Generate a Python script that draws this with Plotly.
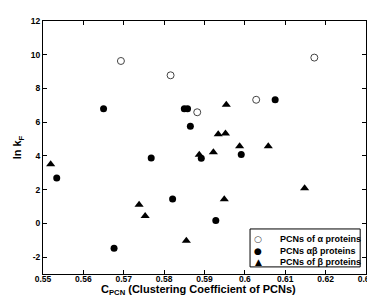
import plotly.graph_objects as go

alpha_x = [0.5693, 0.5816, 0.5882, 0.6028, 0.6172]
alpha_y = [9.63, 8.78, 6.59, 7.33, 9.83]

ab_x = [0.5650, 0.5850, 0.5858, 0.5865, 0.6075, 0.5768, 0.5534, 0.5676, 0.5892, 0.5991, 0.5821, 0.5928]
ab_y = [6.80, 6.80, 6.80, 5.76, 7.33, 3.88, 2.69, -1.48, 3.87, 4.09, 1.45, 0.17]

beta_x = [0.5519, 0.5738, 0.5753, 0.5855, 0.5887, 0.5922, 0.5987, 0.5949, 0.6058, 0.6148, 0.5954, 0.5934, 0.5952]
beta_y = [3.51, 1.10, 0.44, -1.03, 4.07, 4.22, 4.57, 1.43, 4.57, 2.09, 7.03, 5.29, 5.33]

x_ticks = [0.55, 0.56, 0.57, 0.58, 0.59, 0.60, 0.61, 0.62, 0.63]
x_tick_labels = ["0.55", "0.56", "0.57", "0.58", "0.59", "0.6", "0.61", "0.62", "0.63"]
y_ticks = [-2, 0, 2, 4, 6, 8, 10, 12]
y_tick_labels = ["-2", "0", "2", "4", "6", "8", "10", "12"]

legend_names = ["PCNs of α proteins", "PCNs αβ proteins", "PCNs of β proteins"]
legend_symbols = ["○", "●", "▲"]

FONT = "Liberation Sans"

fig = go.Figure()
fig.add_trace(go.Scatter(x=alpha_x, y=alpha_y, mode="markers", name=legend_names[0],
                         marker=dict(symbol="circle-open", size=7, color="#444444", line=dict(width=1))))
fig.add_trace(go.Scatter(x=ab_x, y=ab_y, mode="markers", name=legend_names[1],
                         marker=dict(symbol="circle", size=7, color="black")))
fig.add_trace(go.Scatter(x=beta_x, y=beta_y, mode="markers", name=legend_names[2],
                         marker=dict(symbol="triangle-up", size=8, color="black")))

axis_common = dict(showgrid=False, zeroline=False, showline=True, linecolor="black", linewidth=1,
                   mirror="ticks", ticks="inside", ticklen=4, tickcolor="black",
                   ticklabeloverflow="allow",
                   tickfont=dict(family=FONT, size=8.5, color="black", weight="bold"))

fig.update_layout(
    width=375, height=298,
    margin=dict(l=35, r=11, t=8, b=32),
    paper_bgcolor="white", plot_bgcolor="white",
    font=dict(family=FONT, color="black"),
    showlegend=False,
    xaxis=dict(range=[0.55, 0.63], tickvals=x_ticks, ticktext=x_tick_labels,
               ticklabelstandoff=-3, **axis_common),
    yaxis=dict(range=[-3, 12], tickvals=y_ticks, ticktext=y_tick_labels,
               title=dict(text="<b>ln k<sub>F</sub></b>", font=dict(family=FONT, size=11), standoff=6),
               **axis_common),
)

# x-axis title as annotation for precise placement
fig.add_annotation(xref="paper", yref="paper", x=0.48, y=-0.099, yanchor="bottom", showarrow=False,
                   text="<b>C<sub>PCN</sub> (Clustering Coefficient of PCNs)</b>",
                   font=dict(family=FONT, size=11, color="black"))

# custom compact legend
fig.add_shape(type="rect", xref="paper", yref="paper", x0=0.641, x1=0.982, y0=0.028, y1=0.178,
              line=dict(color="black", width=1), fillcolor="white", layer="above")
row_y = [0.138, 0.092, 0.047]
sym_colors = ["#444444", "black", "black"]
for name, sym, yy, col in zip(legend_names, legend_symbols, row_y, sym_colors):
    fig.add_annotation(xref="paper", yref="paper", x=0.666, y=yy, showarrow=False, xanchor="center",
                       yanchor="middle", text=sym, font=dict(family="DejaVu Sans", size=9, color=col))
    fig.add_annotation(xref="paper", yref="paper", x=0.728, y=yy, showarrow=False, xanchor="left",
                       yanchor="middle", text="<b>" + name + "</b>",
                       font=dict(family=FONT, size=9, color="black"))

fig.write_html("out.html")
